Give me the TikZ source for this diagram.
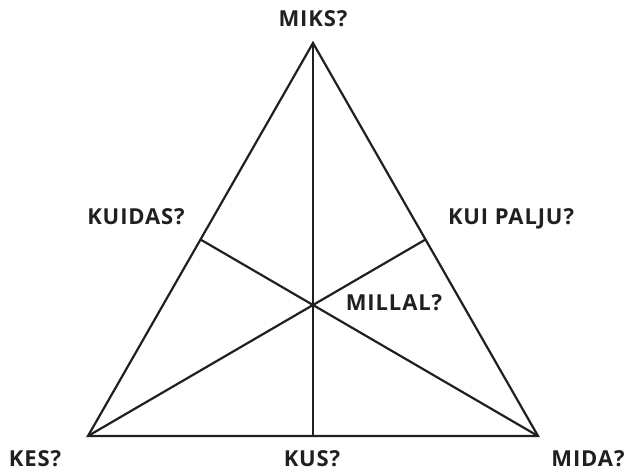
\documentclass[tikz,border=0pt]{standalone}
\usepackage{fontspec}
\setmainfont{Open Sans}
\newfontfamily\lblfont[LetterSpace=4]{Open Sans}
\definecolor{ink}{HTML}{231F20}
\begin{document}
\begin{tikzpicture}[x=1pt,y=-1pt,
  edge/.style={draw=ink,line width=2.2pt,line join=miter},
  lbl/.style={text=ink,font=\lblfont\fontsize{22}{24}\selectfont\bfseries,inner sep=0pt,anchor=base}]
\useasboundingbox (0,0) rectangle (631,471);
\coordinate (A) at (313,43);
\coordinate (B) at (88,436);
\coordinate (C) at (538,436);
\coordinate (MBC) at (313,436);
\coordinate (MAB) at (200.5,239.5);
\coordinate (MAC) at (425.5,239.5);
\draw[edge] (A) -- (B) -- (C) -- cycle;
\draw[edge] (A) -- (MBC);
\draw[edge] (B) -- (MAC);
\draw[edge] (C) -- (MAB);
\node[lbl] (miks) at (313,26) {MIKS?};
\node[lbl] (kuidas) at (136,224) {KUIDAS?};
\node[lbl] (kuipalju) at (511,224) {KUI PALJU?};
\node[lbl] (millal) at (394,310) {MILLAL?};
\node[lbl] (kes) at (35,466) {KES?};
\node[lbl] (kus) at (312,466) {KUS?};
\node[lbl] (mida) at (588,466) {MIDA?};
\end{tikzpicture}
\end{document}
